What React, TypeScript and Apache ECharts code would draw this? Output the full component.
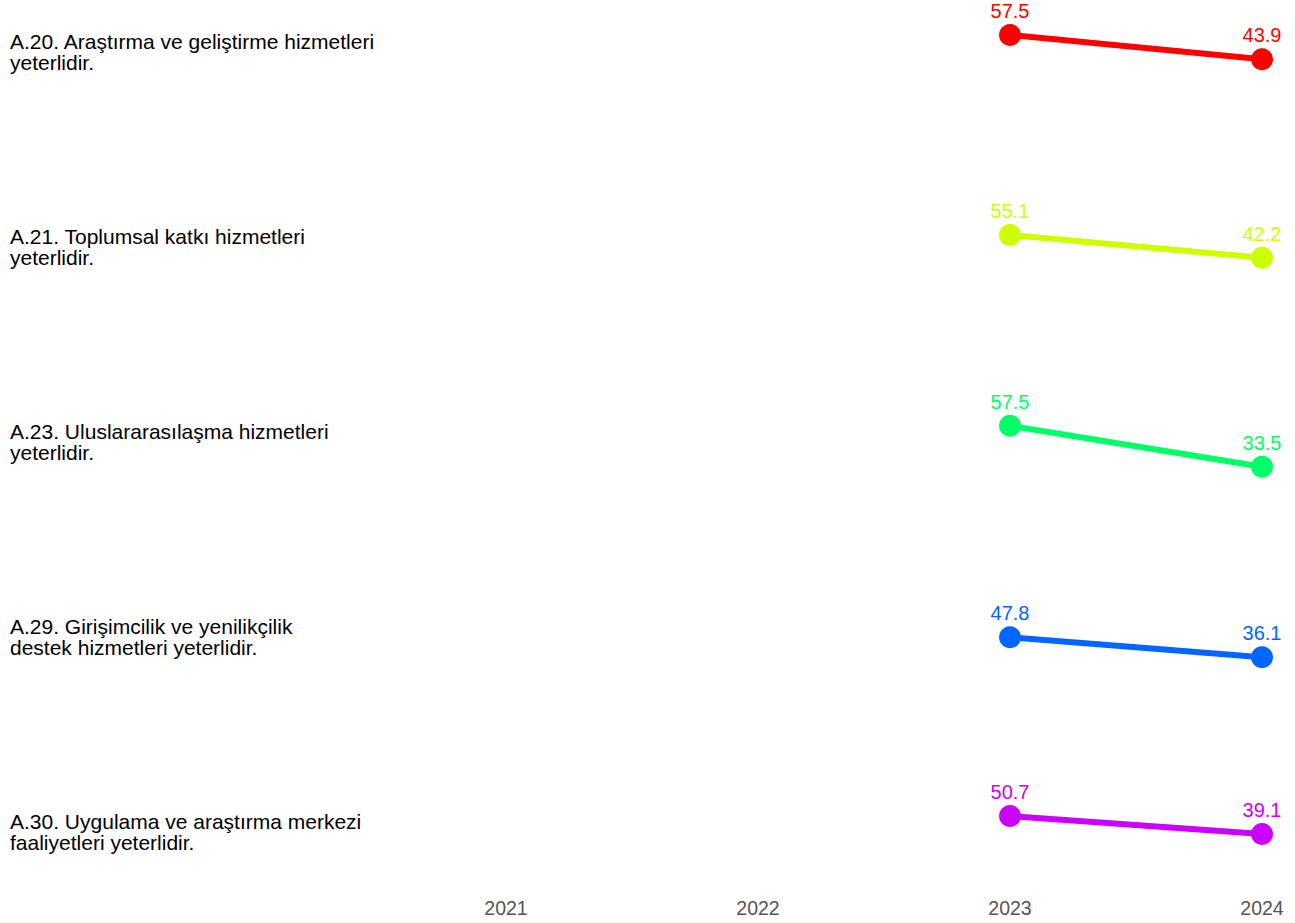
import React, { useEffect, useRef } from "react";
import * as echarts from "echarts";

const years = ["2021", "2022", "2023", "2024"];
const questions = [
  "A.20. Araştırma ve geliştirme hizmetleri\nyeterlidir.",
  "A.21. Toplumsal katkı hizmetleri\nyeterlidir.",
  "A.23. Uluslararasılaşma hizmetleri\nyeterlidir.",
  "A.29. Girişimcilik ve yenilikçilik\ndestek hizmetleri yeterlidir.",
  "A.30. Uygulama ve araştırma merkezi\nfaaliyetleri yeterlidir.",
];
const values2023 = [57.5, 55.1, 57.5, 47.8, 50.7];
const values2024 = [43.9, 42.2, 33.5, 36.1, 39.1];
const colors = ["#ff0000", "#ccff00", "#00ff66", "#0066ff", "#cc00ff"];
// per-panel y-axis ranges (free scales)
const yMins = [15.5, 15.3, 14, 14, 3];
const yMaxs = [71.5, 72.2, 72.6, 72.6, 67.5];

const FONT = "Liberation Sans, Arial, sans-serif";

export default function App() {
  const ref = useRef<HTMLDivElement>(null);
  useEffect(() => {
    if (!ref.current) return;
    const chart = echarts.init(ref.current, undefined, { renderer: "svg" });
    const panelTop = 10;
    const panelStep = 195;
    const panelH = 100;
    const n = questions.length;
    const grids = questions.map((_, i) => ({
      left: 506,
      right: 33,
      top: panelTop + i * panelStep,
      height: panelH,
    }));
    const xAxes = questions.map((_, i) => ({
      type: "category",
      gridIndex: i,
      data: years,
      boundaryGap: false,
      axisLine: { show: false },
      axisTick: { show: false },
      splitLine: { show: false },
      axisLabel: {
        show: i === n - 1,
        color: "#555555",
        fontSize: 19.5,
        fontFamily: FONT,
        margin: 8,
      },
    }));
    const yAxes = questions.map((_, i) => ({
      type: "value",
      gridIndex: i,
      min: yMins[i],
      max: yMaxs[i],
      show: false,
    }));
    const series = questions.map((q, i) => ({
      type: "line",
      name: q,
      xAxisIndex: i,
      yAxisIndex: i,
      data: ["-", "-", values2023[i], values2024[i]],
      symbol: "circle",
      symbolSize: 22,
      lineStyle: { width: 6, color: colors[i] },
      itemStyle: { color: colors[i] },
      label: {
        show: true,
        position: "top",
        distance: 3,
        color: colors[i],
        fontSize: 20,
        fontFamily: FONT,
        formatter: (p: any) => Number(p.value).toFixed(1),
      },
    }));
    const graphics = questions.map((q, i) => ({
      type: "text",
      left: 10,
      top: panelTop + i * panelStep + 21,
      style: {
        text: q,
        font: `21px ${FONT}`,
        fill: "#000000",
        lineHeight: 21,
      },
    }));
    chart.setOption({
      animation: false,
      backgroundColor: "#ffffff",
      grid: grids,
      xAxis: xAxes,
      yAxis: yAxes,
      series,
      graphic: graphics,
    });
    return () => chart.dispose();
  }, []);
  return (
    <div
      ref={ref}
      style={{ position: "fixed", left: 0, top: 0, width: 1295, height: 923 }}
    />
  );
}
